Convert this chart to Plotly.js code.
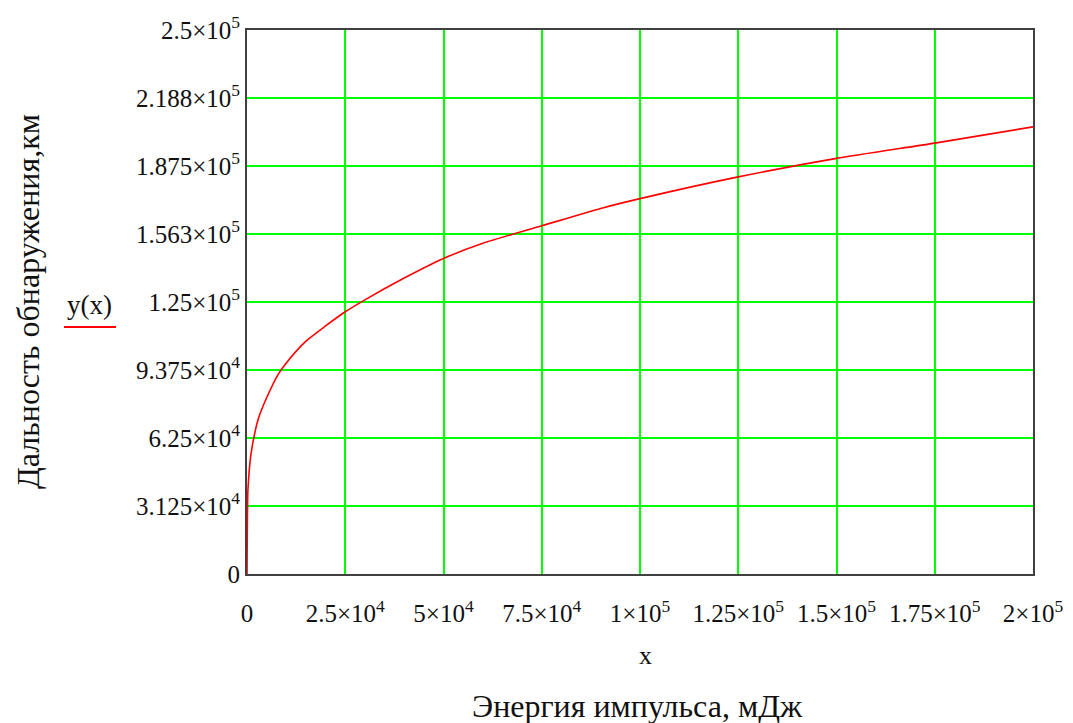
<!DOCTYPE html>
<html>
<head>
<meta charset="utf-8">
<script src="https://cdn.plot.ly/plotly-3.0.1.min.js"></script>
<style>html,body{margin:0;padding:0;background:#fff;}#chart{width:1073px;height:723px;}</style>
</head>
<body>
<div id="chart"></div>
<script>
// Energy of pulse (mJ) and detection range (km)
var energyX = [0, 200, 500, 1000, 2000, 3000, 5000, 8000, 10000, 15000, 20000, 25000, 30000, 40000, 50000, 60000, 75000, 90000, 100000, 125000, 150000, 175000, 200000];
var rangeY  = [0, 37000, 46000, 55000, 65000, 72000, 81000, 92000, 97000, 107000, 114000, 120500, 126000, 136000, 145000, 152000, 160000, 168000, 172500, 182500, 191000, 198000, 205500];

var xTickVals = [0, 25000, 50000, 75000, 100000, 125000, 150000, 175000, 200000];
var xTickText = ['0', '2.5×10<sup>4</sup>', '5×10<sup>4</sup>', '7.5×10<sup>4</sup>', '1×10<sup>5</sup>', '1.25×10<sup>5</sup>', '1.5×10<sup>5</sup>', '1.75×10<sup>5</sup>', '2×10<sup>5</sup>'];
var yTickVals = [0, 31250, 62500, 93750, 125000, 156250, 187500, 218750, 250000];
var yTickText = ['0', '3.125×10<sup>4</sup>', '6.25×10<sup>4</sup>', '9.375×10<sup>4</sup>', '1.25×10<sup>5</sup>', '1.563×10<sup>5</sup>', '1.875×10<sup>5</sup>', '2.188×10<sup>5</sup>', '2.5×10<sup>5</sup>'];

var fontFam = '"Liberation Serif", "Times New Roman", serif';

var trace = {
  x: energyX, y: rangeY, type: 'scatter', mode: 'lines',
  line: {color: '#ff0000', width: 1.6, shape: 'spline', smoothing: 0.6},
  showlegend: false, hoverinfo: 'skip'
};

var L = 247, R = 1033, T = 30, B = 574;
function px(x){ return (x - L) / (R - L); }
function py(y){ return (B - y) / (B - T); }

var layout = {
  width: 1073, height: 723,
  margin: {l: L, r: 1073 - R, t: T, b: 723 - B},
  paper_bgcolor: '#ffffff', plot_bgcolor: '#ffffff',
  font: {family: fontFam, color: '#111', size: 25},
  xaxis: {
    range: [0, 200000], tickvals: xTickVals, ticktext: xTickText,
    showgrid: true, gridcolor: '#00ff00', gridwidth: 2,
    zeroline: false, showline: true, linecolor: '#404040', linewidth: 2, mirror: true,
    ticks: '', ticklabelstandoff: 16, tickfont: {family: fontFam, size: 25, color: '#111'},
    fixedrange: true
  },
  yaxis: {
    range: [0, 250000], tickvals: yTickVals, ticktext: yTickText,
    showgrid: true, gridcolor: '#00ff00', gridwidth: 2,
    zeroline: false, showline: true, linecolor: '#404040', linewidth: 2, mirror: true,
    ticks: '', ticklabelstandoff: 0, tickfont: {family: fontFam, size: 25, color: '#111'},
    fixedrange: true
  },
  annotations: [
    {text: 'Дальность обнаружения,км', xref: 'paper', yref: 'paper', x: px(28), y: py(301),
     xanchor: 'center', yanchor: 'middle', textangle: -90, showarrow: false,
     font: {family: fontFam, size: 32, color: '#111'}},
    {text: 'y(x)', xref: 'paper', yref: 'paper', x: px(89), y: py(305),
     xanchor: 'center', yanchor: 'middle', showarrow: false,
     font: {family: fontFam, size: 27, color: '#111'}},
    {text: 'x', xref: 'paper', yref: 'paper', x: px(645), y: py(655),
     xanchor: 'center', yanchor: 'middle', showarrow: false,
     font: {family: fontFam, size: 26, color: '#111'}},
    {text: 'Энергия импульса, мДж', xref: 'paper', yref: 'paper', x: px(637), y: py(706),
     xanchor: 'center', yanchor: 'middle', showarrow: false,
     font: {family: fontFam, size: 32, color: '#111'}}
  ],
  shapes: [
    {type: 'line', xref: 'paper', yref: 'paper', x0: px(64), x1: px(116), y0: py(327), y1: py(327),
     line: {color: '#ff0000', width: 2}}
  ]
};

Plotly.newPlot('chart', [trace], layout, {displayModeBar: false, staticPlot: true});
</script>
</body>
</html>
